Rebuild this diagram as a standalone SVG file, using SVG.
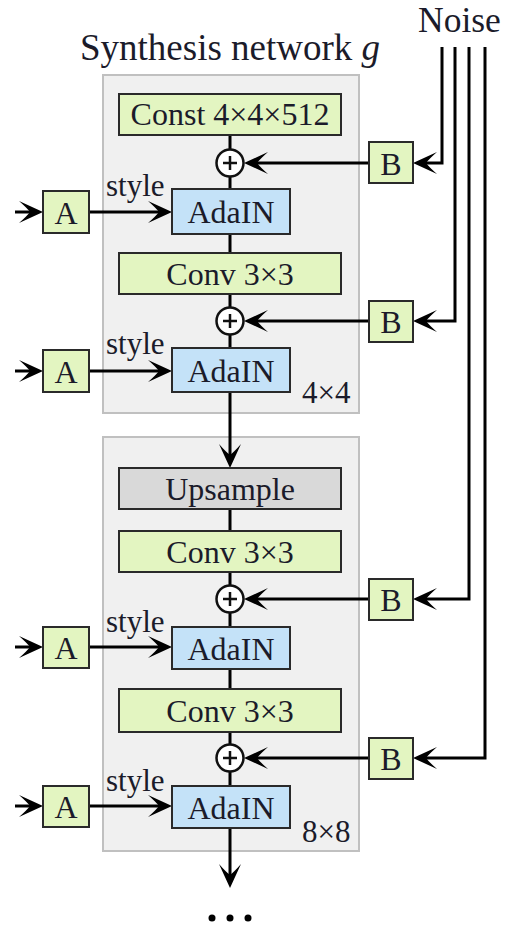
<svg xmlns="http://www.w3.org/2000/svg" width="511" height="925" viewBox="0 0 511 925">
  <style>
    .stage { fill: #f0f0f0; stroke: #c0c0c0; stroke-width: 2; }
    .op { fill: #e3f5c1; stroke: #2a2a2a; stroke-width: 2; }
    .norm { fill: #c4e2f8; stroke: #2a2a2a; stroke-width: 2; }
    .up { fill: #d9d9d9; stroke: #2a2a2a; stroke-width: 2; }
    .sum { fill: #ffffff; stroke: #111; stroke-width: 2.5; }
    .sumsign { stroke: #111; stroke-width: 2.5; fill: none; }
    .lbl { font-family: "Liberation Serif", "Times New Roman", serif; font-size: 32px; fill: #1b1b2a; text-anchor: middle; }
    .side { font-family: "Liberation Serif", "Times New Roman", serif; font-size: 31px; fill: #1b1b2a; }
    .title { font-family: "Liberation Serif", "Times New Roman", serif; fill: #1b1b2a; }
    .wire { stroke: #000; stroke-width: 3; fill: none; }
    .arrow { stroke: #000; stroke-width: 3; fill: none; marker-end: url(#head); }
  </style>
  <defs>
    <!-- swept-back arrowhead; tip lands 12px past the line end -->
    <marker id="head" viewBox="-26 -13 28 26" refX="-12" refY="0" markerWidth="28" markerHeight="26" markerUnits="userSpaceOnUse" orient="auto">
      <path d="M0,0 L-24,-11 Q-16,-4 -13,0 Q-16,4 -24,11 Z" fill="#000"/>
    </marker>
  </defs>

  <!-- titles -->
  <text class="title" x="80" y="60" font-size="37">Synthesis network <tspan font-style="italic">g</tspan></text>
  <text class="title" x="418" y="32" font-size="35.5">Noise</text>

  <!-- resolution stages -->
  <g id="stage-4x4">
    <rect class="stage" x="103" y="75" width="256" height="338"/>
    <text class="side" x="302" y="403">4×4</text>
  </g>
  <g id="stage-8x8">
    <rect class="stage" x="103" y="437" width="256" height="414"/>
    <text class="side" x="302" y="842">8×8</text>
  </g>

  <!-- connectors -->
  <g id="connectors">
    <!-- main trunk -->
    <line class="wire" x1="230" y1="135" x2="230" y2="189"/>
    <line class="wire" x1="230" y1="234" x2="230" y2="348"/>
    <path class="arrow" d="M230,392 L230,456"/>
    <line class="wire" x1="230" y1="509" x2="230" y2="627"/>
    <line class="wire" x1="230" y1="669" x2="230" y2="786"/>
    <path class="arrow" d="M230,828 L230,876"/>

    <!-- noise feeds into B -->
    <path class="arrow" d="M442,47 L442,163 L425,163"/>
    <path class="arrow" d="M455,47 L455,321 L425,321"/>
    <path class="arrow" d="M469,47 L469,599 L425,599"/>
    <path class="arrow" d="M485,47 L485,758 L425,758"/>

    <!-- B into sums -->
    <path class="arrow" d="M369,163 L256,163"/>
    <path class="arrow" d="M369,321 L256,321"/>
    <path class="arrow" d="M369,599 L256,599"/>
    <path class="arrow" d="M369,758 L256,758"/>

    <!-- style inputs -->
    <path class="arrow" d="M15,212 L31,212"/>
    <path class="arrow" d="M89,212 L160,212"/>
    <path class="arrow" d="M15,371 L31,371"/>
    <path class="arrow" d="M89,371 L160,371"/>
    <path class="arrow" d="M15,647 L31,647"/>
    <path class="arrow" d="M89,647 L160,647"/>
    <path class="arrow" d="M15,806 L31,806"/>
    <path class="arrow" d="M89,806 L160,806"/>
  </g>

  <!-- 4x4 stage nodes -->
  <g id="const">
    <rect class="op" x="119" y="94" width="222" height="41"/>
    <text class="lbl" x="230" y="125">Const 4×4×512</text>
  </g>
  <g id="sum1">
    <circle class="sum" cx="230" cy="163" r="13.5"/>
    <path class="sumsign" d="M223,163 H237 M230,156 V170"/>
  </g>
  <g id="adain1">
    <rect class="norm" x="172" y="189" width="118" height="45"/>
    <text class="lbl" x="231" y="223">AdaIN</text>
  </g>
  <g id="conv1">
    <rect class="op" x="119" y="253" width="222" height="41"/>
    <text class="lbl" x="230" y="285">Conv 3×3</text>
  </g>
  <g id="sum2">
    <circle class="sum" cx="230" cy="321" r="13.5"/>
    <path class="sumsign" d="M223,321 H237 M230,314 V328"/>
  </g>
  <g id="adain2">
    <rect class="norm" x="172" y="348" width="118" height="44"/>
    <text class="lbl" x="231" y="382">AdaIN</text>
  </g>

  <!-- 8x8 stage nodes -->
  <g id="upsample">
    <rect class="up" x="119" y="468" width="222" height="41"/>
    <text class="lbl" x="230" y="500">Upsample</text>
  </g>
  <g id="conv2">
    <rect class="op" x="119" y="531" width="222" height="41"/>
    <text class="lbl" x="230" y="563">Conv 3×3</text>
  </g>
  <g id="sum3">
    <circle class="sum" cx="230" cy="599" r="13.5"/>
    <path class="sumsign" d="M223,599 H237 M230,592 V606"/>
  </g>
  <g id="adain3">
    <rect class="norm" x="172" y="627" width="118" height="42"/>
    <text class="lbl" x="231" y="660">AdaIN</text>
  </g>
  <g id="conv3">
    <rect class="op" x="119" y="689" width="222" height="43"/>
    <text class="lbl" x="230" y="722">Conv 3×3</text>
  </g>
  <g id="sum4">
    <circle class="sum" cx="230" cy="758" r="13.5"/>
    <path class="sumsign" d="M223,758 H237 M230,751 V765"/>
  </g>
  <g id="adain4">
    <rect class="norm" x="172" y="786" width="118" height="42"/>
    <text class="lbl" x="231" y="819">AdaIN</text>
  </g>

  <!-- style affine blocks -->
  <g id="a1">
    <rect class="op" x="43" y="191" width="46" height="42"/>
    <text class="lbl" x="66" y="224">A</text>
    <text class="side" x="106" y="196">style</text>
  </g>
  <g id="a2">
    <rect class="op" x="43" y="350" width="46" height="42"/>
    <text class="lbl" x="66" y="383">A</text>
    <text class="side" x="106" y="354">style</text>
  </g>
  <g id="a3">
    <rect class="op" x="43" y="627" width="46" height="41"/>
    <text class="lbl" x="66" y="659">A</text>
    <text class="side" x="106" y="632">style</text>
  </g>
  <g id="a4">
    <rect class="op" x="43" y="786" width="46" height="41"/>
    <text class="lbl" x="66" y="818">A</text>
    <text class="side" x="106" y="791">style</text>
  </g>

  <!-- noise scaling blocks -->
  <g id="b1">
    <rect class="op" x="369" y="142" width="44" height="41"/>
    <text class="lbl" x="391" y="175">B</text>
  </g>
  <g id="b2">
    <rect class="op" x="369" y="301" width="44" height="41"/>
    <text class="lbl" x="391" y="333">B</text>
  </g>
  <g id="b3">
    <rect class="op" x="369" y="579" width="44" height="41"/>
    <text class="lbl" x="391" y="611">B</text>
  </g>
  <g id="b4">
    <rect class="op" x="369" y="738" width="44" height="41"/>
    <text class="lbl" x="391" y="770">B</text>
  </g>

  <!-- continuation -->
  <g id="more">
    <circle cx="212" cy="918" r="3.5" fill="#000"/>
    <circle cx="230" cy="918" r="3.5" fill="#000"/>
    <circle cx="248" cy="918" r="3.5" fill="#000"/>
  </g>
</svg>
